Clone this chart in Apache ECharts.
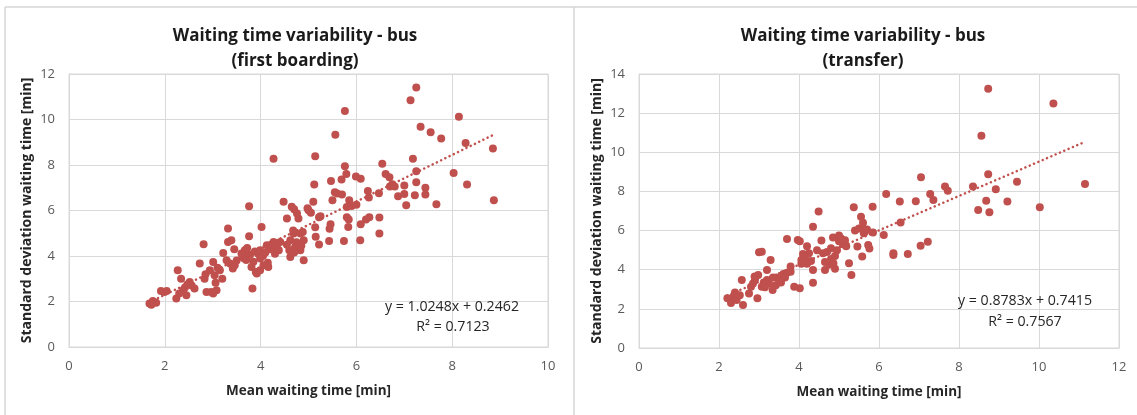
<!DOCTYPE html>
<html>
<head>
<meta charset="utf-8">
<script src="https://cdn.jsdelivr.net/npm/echarts@6/dist/echarts.min.js"></script>
<style>
  html, body { margin: 0; padding: 0; background: #ffffff; }
  #chart { width: 1137px; height: 415px; }
</style>
</head>
<body>
<div id="chart"></div>
<script>
// Mean waiting time [min] vs standard deviation [min], bus, first boarding
const firstBoardingPoints = [
  [1.68,1.91],[1.75,2.02],[1.82,1.94],[1.72,1.86],[1.92,2.46],[2.04,2.46],[1.99,2.42],
  [2.24,2.13],[2.27,3.37],[2.34,3.0],[2.38,2.49],[2.3,2.35],[2.45,2.27],[2.42,2.62],[2.52,2.86],[2.47,2.75],[2.62,2.57],[2.56,2.7],
  [2.73,3.67],[2.81,4.52],[2.83,3.0],[2.85,3.2],[2.87,2.42],[2.97,2.42],[3.08,2.49],[3.01,2.35],[3.01,3.74],[2.94,3.37],[3.04,3.15],[3.15,3.37],[3.06,2.82],[3.1,3.48],[3.2,3.0],
  [3.22,4.13],[3.32,5.21],[3.32,4.62],[3.39,4.69],[3.29,3.81],[3.36,3.67],[3.46,3.59],[3.42,3.45],[3.5,3.8],[3.45,4.3],
  [3.6,4.11],[3.67,4.25],[3.71,3.96],[3.76,6.19],[3.76,4.87],[3.83,2.57],[3.81,3.52],[3.92,3.23],[3.99,3.37],[3.99,3.89],[4.06,3.59],[4.16,3.52],[3.65,3.9],[3.72,4.35],[3.78,4.05],[3.85,3.75],[3.88,4.2],[3.95,4.1],[3.9,3.3],[3.62,4.0],[3.7,3.82],
  [4.02,5.28],[3.99,4.25],[4.13,4.47],[4.27,4.62],[4.34,4.4],[4.41,4.62],[4.05,4.0],[4.1,4.15],[4.2,4.3],[4.15,3.7],[4.3,4.1],[4.38,4.25],[4.22,4.5],
  [4.27,8.28],[4.48,6.38],[4.55,5.65],[4.65,6.16],[4.7,6.05],[4.76,5.87],[4.79,5.65],[5.0,6.01],[4.62,4.69],[4.69,4.99],[4.83,4.99],[4.9,4.69],[4.72,4.4],[4.62,3.96],[4.83,4.25],[4.9,3.81],[4.68,5.12],[4.75,4.6],[4.85,4.45],[4.55,4.5],[4.88,5.05],[4.6,4.25],[4.8,4.35],[4.7,4.15],
  [7.25,11.41],[7.13,10.85],[5.76,10.37],[8.14,10.12],[7.34,9.68],[7.55,9.44],[7.77,9.16],[5.56,9.33],[8.28,8.97],[8.85,8.72],[5.14,8.39],[7.18,8.28],[6.54,8.05],[5.76,7.95],[5.79,7.6],[7.25,7.73],[5.99,7.5],[6.09,7.4],[5.47,7.3],[5.69,7.36],[6.61,7.6],[6.69,7.46],[5.12,7.14],[7.25,7.24],[6.7,7.05],[6.8,7.05],[7.0,7.1],[6.75,7.15],[8.03,7.65],[8.31,7.14],
  [5.55,6.8],[5.6,6.75],[5.5,6.45],[5.7,6.7],[6.24,6.86],[6.26,6.57],[6.47,6.76],[7.44,7.0],[7.44,6.7],[6.87,6.63],[7.0,6.72],[7.04,6.23],[7.22,6.67],[7.67,6.28],[8.87,6.45],
  [5.1,6.38],[5.85,6.45],[5.9,6.2],[5.8,6.15],[6.0,6.25],[4.98,6.1],[5.05,5.9],[5.22,5.7],[5.25,5.75],[5.46,5.4],[5.44,5.2],[5.14,5.26],[5.83,5.28],[6.09,5.4],[6.2,5.6],[6.27,5.7],[6.48,5.69],[6.48,4.99],[5.15,4.85],[5.22,4.51],[5.43,4.66],[5.74,4.66],[6.08,4.69],[5.8,5.7],[5.84,5.6]
];

// Mean waiting time [min] vs standard deviation [min], bus, transfer
const transferPoints = [
  [2.21,2.54],[2.3,2.3],[2.36,2.62],[2.4,2.84],[2.44,2.45],[2.57,3.48],[2.6,2.2],[2.52,2.7],[2.75,2.79],[2.8,3.13],[2.85,3.3],[2.89,3.65],[2.98,3.73],[2.96,2.54],
  [3.0,4.89],[3.07,4.92],[3.07,3.13],[3.12,3.35],[3.2,3.48],[3.25,3.3],[3.2,3.99],[3.29,4.5],[3.34,2.96],[3.42,3.2],[3.5,3.48],[3.45,3.6],[3.61,3.78],[3.7,3.85],[3.79,3.9],[3.79,4.16],[3.65,3.6],[3.7,5.57],[3.88,3.13],
  [4.02,3.05],[3.97,5.52],[4.02,5.45],[4.06,4.5],[4.1,4.8],[4.06,4.3],[4.15,4.6],[4.2,4.3],[4.25,4.84],[4.3,4.45],[4.2,5.2],[4.35,6.2],[4.35,3.99],[4.35,3.34],[4.49,6.97],[4.56,5.49],[4.6,4.84],[4.65,4.4],[4.7,4.9],[4.8,5.1],[4.85,5.65],[4.95,5.0],[5.0,5.75],[4.65,3.99],[4.86,4.33],[4.8,4.55],[4.9,4.7],
  [5.0,5.45],[5.1,5.3],[5.18,5.2],[5.25,4.33],[5.31,3.73],[5.37,7.19],[5.46,5.18],[5.4,6.0],[5.5,6.1],[5.55,6.7],[5.6,6.4],[5.62,5.86],[5.7,6.05],[5.85,5.9],[5.58,4.67],[5.73,5.26],[5.76,5.09],[5.84,7.22],
  [6.12,5.77],[6.18,7.87],[6.36,4.84],[6.36,4.75],[6.52,7.48],[6.54,6.41],[6.72,4.8],[6.92,7.5],[7.04,5.23],[7.05,8.72],[7.22,5.43],[7.28,7.87],[7.36,7.56],[7.65,8.25],[7.72,8.04],
  [8.35,8.25],[8.48,7.05],[8.56,10.85],[8.68,7.53],[8.73,8.88],[8.73,13.24],[8.76,6.93],[8.92,8.11],[9.21,7.48],[9.45,8.5],[10.02,7.19],[10.36,12.49],[11.15,8.38],
  [5.05,5.6],[5.15,5.5],[5.6,6.1],[5.65,5.95],[4.45,5.0],[4.1,4.55],[3.35,3.6],[3.55,3.35],[2.9,3.5],[3.15,3.1],[4.75,4.25],[4.9,4.05]
];

// Linear trendline coefficients (slope, intercept) and R² as printed
const firstBoardingFit = { slope: 1.0248, intercept: 0.2462, r2: '0.7123' };
const transferFit = { slope: 0.8783, intercept: 0.7415, r2: '0.7567' };

const titles = [
  'Waiting time variability - bus\n(first boarding)',
  'Waiting time variability - bus\n(transfer)'
];
const xAxisName = 'Mean waiting time [min]';
const yAxisName = 'Standard deviation waiting time [min]';
const xAxisMax = [10, 12];
const yAxisMax = [12, 14];

const RED = '#c0504d';
const GRID = '#d9d9d9';
const FONT = '"Open Sans", sans-serif';

// Excel-style linear trendline spanning the data's x range
function trendLine(points, fit) {
  const xs = points.map(p => p[0]);
  const x0 = Math.min(...xs), x1 = Math.max(...xs);
  return [[x0, fit.slope * x0 + fit.intercept], [x1, fit.slope * x1 + fit.intercept]];
}

function fmtCoef(v) { return v.toFixed(4); }

const chart = echarts.init(document.getElementById('chart'), null, { renderer: 'canvas' });

const grids = [
  { left: 69, top: 74, width: 479, height: 273 },
  { left: 639, top: 74, width: 480, height: 274 }
];

function xAxisCfg(i) {
  return {
    type: 'value', gridIndex: i, min: 0, max: xAxisMax[i], interval: 2,
    name: xAxisName, nameLocation: 'middle', nameGap: 37,
    nameTextStyle: { fontFamily: FONT, fontWeight: 'bold', fontSize: 13.5, color: '#262626' },
    axisLine: { show: true, lineStyle: { color: GRID, width: 1 } },
    axisTick: { show: false },
    axisLabel: { fontFamily: FONT, fontSize: 13, color: '#595959', margin: 13 },
    splitLine: { show: true, lineStyle: { color: GRID, width: 1 } }
  };
}
function yAxisCfg(i) {
  return {
    type: 'value', gridIndex: i, min: 0, max: yAxisMax[i], interval: 2,
    name: yAxisName, nameLocation: 'middle', nameGap: 35,
    nameTextStyle: { fontFamily: FONT, fontWeight: 'bold', fontSize: 14, color: '#262626' },
    axisLine: { show: true, lineStyle: { color: GRID, width: 1 } },
    axisTick: { show: false },
    axisLabel: { fontFamily: FONT, fontSize: 13, color: '#595959', margin: 14 },
    splitLine: { show: true, lineStyle: { color: GRID, width: 1 } }
  };
}

function scatterSeries(i, points) {
  return {
    type: 'scatter', xAxisIndex: i, yAxisIndex: i, data: points,
    symbol: 'circle', symbolSize: 8, itemStyle: { color: RED, opacity: 1 },
    silent: true, z: 2
  };
}
function trendSeries(i, points, fit) {
  return {
    type: 'line', xAxisIndex: i, yAxisIndex: i, data: trendLine(points, fit),
    showSymbol: false, symbol: 'none', silent: true, z: 3,
    lineStyle: { color: RED, width: 2.5, type: [0.1, 4.6], cap: 'round' }
  };
}

const eqStyle = { fontFamily: FONT, fontSize: 14.2, fill: '#262626', textAlign: 'center', textVerticalAlign: 'middle' };
const borderStyle = { stroke: '#d6d6d6', lineWidth: 1.5 };

chart.setOption({
  animation: false,
  title: titles.map((t, i) => ({
    text: t, left: i === 0 ? 290 : 858, top: 19, textAlign: 'center',
    textStyle: { fontFamily: FONT, fontWeight: 'bold', fontSize: 17, color: '#1a1a1a', lineHeight: 25 }
  })),
  grid: grids.map(g => Object.assign({ show: true, borderColor: GRID, borderWidth: 1, containLabel: false }, g)),
  xAxis: [xAxisCfg(0), xAxisCfg(1)],
  yAxis: [yAxisCfg(0), yAxisCfg(1)],
  series: [
    scatterSeries(0, firstBoardingPoints),
    trendSeries(0, firstBoardingPoints, firstBoardingFit),
    scatterSeries(1, transferPoints),
    trendSeries(1, transferPoints, transferFit)
  ],
  graphic: [
    { type: 'line', shape: { x1: 5, y1: 7, x2: 1137, y2: 7 }, style: borderStyle, silent: true },
    { type: 'line', shape: { x1: 5, y1: 7, x2: 5, y2: 415 }, style: borderStyle, silent: true },
    { type: 'line', shape: { x1: 574, y1: 7, x2: 574, y2: 415 }, style: borderStyle, silent: true },
    { type: 'text', x: 452, y: 307, z: 10, silent: true,
      style: Object.assign({ text: 'y = ' + fmtCoef(firstBoardingFit.slope) + 'x + ' + fmtCoef(firstBoardingFit.intercept) }, eqStyle) },
    { type: 'text', x: 453, y: 327, z: 10, silent: true,
      style: Object.assign({ text: 'R² = ' + firstBoardingFit.r2 }, eqStyle) },
    { type: 'text', x: 1025, y: 301, z: 10, silent: true,
      style: Object.assign({ text: 'y = ' + fmtCoef(transferFit.slope) + 'x + ' + fmtCoef(transferFit.intercept) }, eqStyle) },
    { type: 'text', x: 1025, y: 322, z: 10, silent: true,
      style: Object.assign({ text: 'R² = ' + transferFit.r2 }, eqStyle) }
  ]
});
</script>
</body>
</html>
